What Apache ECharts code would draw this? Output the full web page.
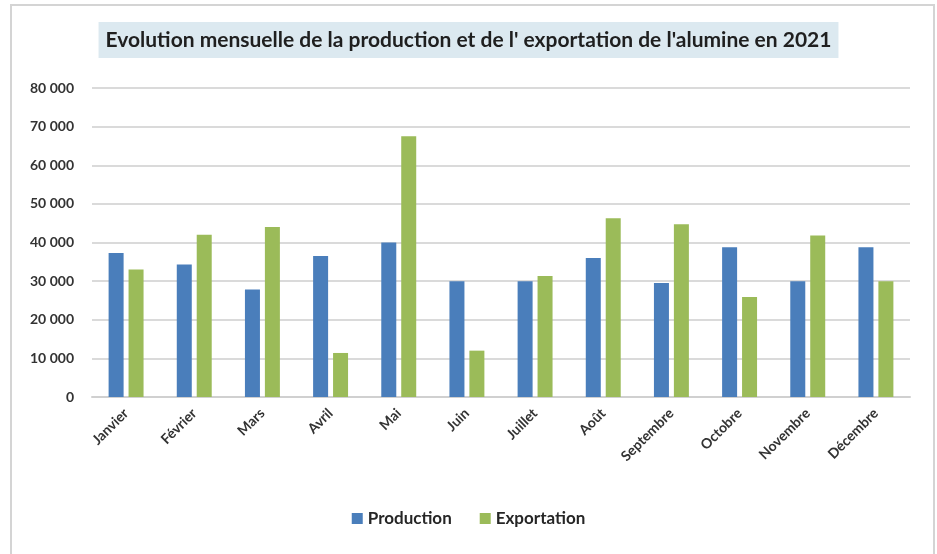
<!DOCTYPE html>
<html>
<head>
<meta charset="utf-8">
<script src="https://cdn.jsdelivr.net/npm/echarts@6/dist/echarts.min.js"></script>
<style>
html,body{margin:0;padding:0;background:#fff;}
#chart{width:937px;height:554px;}
</style>
</head>
<body>
<div id="chart"></div>
<script>
const categories = ['Janvier','Février','Mars','Avril','Mai','Juin','Juillet','Août','Septembre','Octobre','Novembre','Décembre'];
const production = [37300, 34300, 27800, 36500, 40000, 30000, 30000, 36000, 29500, 38800, 30000, 38800];
const exportation = [33000, 42000, 44000, 11400, 67500, 12000, 31300, 46300, 44700, 25900, 41800, 30000];
const yTicks = [0, 10000, 20000, 30000, 40000, 50000, 60000, 70000, 80000];

const FONT = 'Lato, "Open Sans", sans-serif';
const chart = echarts.init(document.getElementById('chart'), null, {renderer: 'canvas'});
chart.setOption({
  animation: false,
  backgroundColor: '#ffffff',
  title: {
    text: "Evolution mensuelle de la production et de l' exportation de l'alumine en 2021",
    left: 'center',
    top: 22,
    backgroundColor: '#dce9f0',
    padding: [6, 7, 6, 7],
    textStyle: {fontFamily: FONT, fontWeight: 'bold', fontSize: 21, lineHeight: 24, color: '#1f1f1f'}
  },
  graphic: [{
    type: 'rect',
    shape: {x: 11, y: 5, width: 923, height: 560},
    style: {fill: 'none', stroke: '#d4d4d4', lineWidth: 2},
    silent: true
  }],
  legend: {
    bottom: 22,
    left: 'center',
    itemWidth: 11,
    itemHeight: 11,
    itemGap: 28,
    icon: 'rect',
    textStyle: {fontFamily: FONT, fontWeight: 'bold', fontSize: 17, color: '#262626'},
    data: ['Production', 'Exportation']
  },
  grid: {left: 92, right: 27, top: 88, bottom: 157, containLabel: false},
  xAxis: {
    type: 'category',
    data: categories,
    axisTick: {show: false},
    axisLine: {lineStyle: {color: '#d0d0d0', width: 2}},
    axisLabel: {
      rotate: 45,
      interval: 0,
      margin: 14,
      fontFamily: FONT,
      fontWeight: 'bold',
      fontSize: 14,
      color: '#333333'
    }
  },
  yAxis: {
    type: 'value',
    min: yTicks[0],
    max: yTicks[yTicks.length - 1],
    interval: 10000,
    axisLine: {show: false},
    axisTick: {show: false},
    splitLine: {lineStyle: {color: '#dadada', width: 2}},
    axisLabel: {
      margin: 18,
      fontFamily: FONT,
      fontWeight: 'bold',
      fontSize: 14,
      color: '#333333',
      formatter: v => String(v).replace(/\B(?=(\d{3})+(?!\d))/g, ' ')
    }
  },
  series: [
    {name: 'Production', type: 'bar', data: production, barWidth: 15, barGap: '33%', itemStyle: {color: '#4a7ebb'}},
    {name: 'Exportation', type: 'bar', data: exportation, barWidth: 15, itemStyle: {color: '#9bbb59'}}
  ]
});
</script>
</body>
</html>
